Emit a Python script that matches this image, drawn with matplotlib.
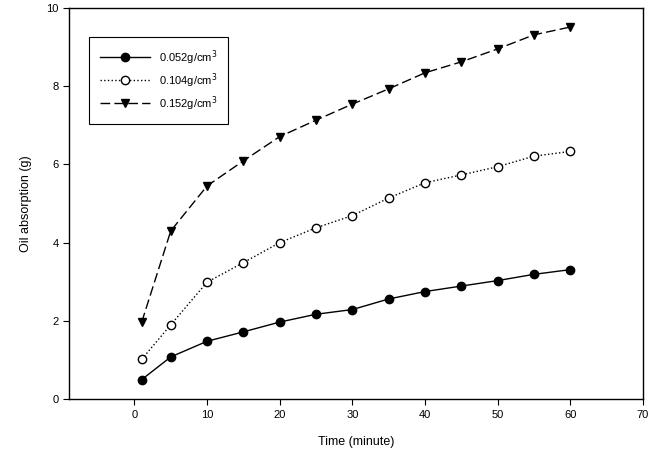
import numpy as np
import matplotlib.pyplot as plt

plt.rcParams['font.family'] = ['Liberation Sans', 'DejaVu Sans']

time = [1, 5, 10, 15, 20, 25, 30, 35, 40, 45, 50, 55, 60]
d052 = [0.50, 1.08, 1.48, 1.72, 1.97, 2.17, 2.29, 2.56, 2.75, 2.89, 3.03, 3.19, 3.31]
d104 = [1.02, 1.90, 2.99, 3.49, 4.00, 4.38, 4.69, 5.14, 5.53, 5.73, 5.94, 6.21, 6.33]
d152 = [1.97, 4.30, 5.45, 6.09, 6.71, 7.13, 7.54, 7.93, 8.34, 8.62, 8.95, 9.31, 9.51]
labels = ['0.052g/cm$^3$', '0.104g/cm$^3$', '0.152g/cm$^3$']

fig = plt.figure(figsize=(6.58, 4.62), dpi=100)
ax = fig.add_axes([0.105, 0.136, 0.872, 0.847])

ax.plot(time, d052, '-', color='black', lw=1, marker='o', ms=6,
        mfc='black', mec='black', label=labels[0])
ax.plot(time, d104, ':', color='black', lw=1, marker='o', ms=6,
        mfc='white', mec='black', label=labels[1])
ax.plot(time, d152, color='black', lw=1, dashes=(7, 3), marker='v', ms=6,
        mfc='black', mec='black', label=labels[2])

ax.set_xlim(-9, 70)
ax.set_ylim(0, 10)
ax.set_xticks(range(0, 71, 10))
ax.set_yticks(range(0, 11, 2))
ax.tick_params(direction='out', labelsize=8, length=4, width=0.8)
for s in ax.spines.values():
    s.set_linewidth(1)

ax.set_xlabel('Time (minute)', fontsize=9, labelpad=12)
ax.set_ylabel('Oil absorption (g)', fontsize=9, labelpad=10)

leg = ax.legend(loc='upper left', bbox_to_anchor=(0.025, 0.94), fontsize=8,
                fancybox=False, edgecolor='black', handlelength=4.5,
                borderpad=1.0, labelspacing=0.4, framealpha=1)
leg.get_frame().set_linewidth(0.8)

fig.savefig('out.png', dpi=100)
